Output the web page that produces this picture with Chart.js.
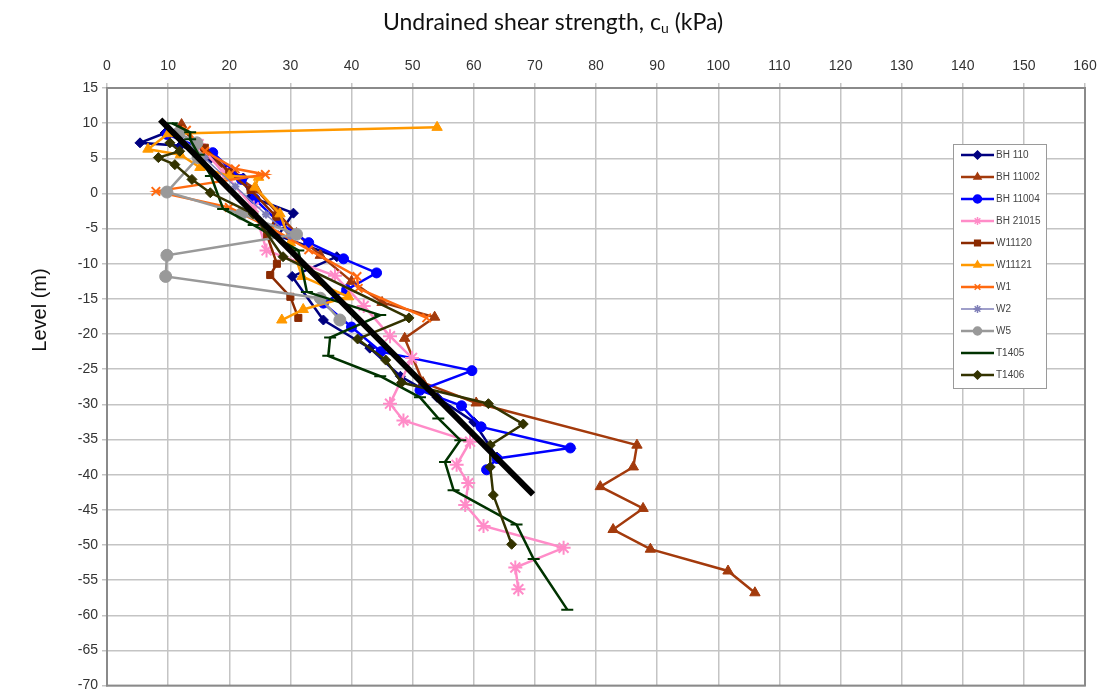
<!DOCTYPE html>
<html>
<head>
<meta charset="utf-8">
<title>Undrained shear strength profile</title>
<script src="https://cdn.jsdelivr.net/npm/chart.js@4.4.1/dist/chart.umd.min.js"></script>
<style>
  html, body { margin: 0; padding: 0; background: #fff; }
  #wrap { width: 1107px; height: 698px; }
</style>
</head>
<body>
<div id="wrap"><canvas id="cuChart" width="1107" height="698"></canvas></div>
<script>
// [cu (kPa), level (m)] for each borehole / test profile
const BH110 = [[9.5, 8.6], [5.4, 7.2], [12, 6.8], [17, 5], [22.3, 2.2], [23.5, -0.5], [30.5, -2.8], [28, -6], [37.6, -9], [30.3, -11.8], [35.4, -18], [43, -22], [48, -26], [54, -29], [60, -32.5], [63.8, -37.5]];
const BH11002 = [[12.2, 9.8], [16, 5.5], [21, 2.5], [24.5, 0.5], [27.8, -2.7], [31, -5.7], [34.9, -8.8], [40, -12.5], [45, -15.5], [53.6, -17.6], [48.7, -20.6], [51.7, -26.9], [60.4, -29.8], [86.7, -35.8], [86.1, -38.9], [80.7, -41.7], [87.7, -44.8], [82.8, -47.8], [88.9, -50.6], [101.6, -53.7], [106, -56.8]];
const BH11004 = [[9.8, 8.4], [17.3, 5.8], [22, 2], [24.2, -0.8], [28, -4], [33, -7], [38.7, -9.3], [44.1, -11.3], [39.2, -13.7], [35.4, -15.6], [40, -19], [44.8, -22.5], [59.7, -25.2], [51.2, -28], [58, -30.2], [61.2, -33.2], [75.8, -36.2], [63.8, -37.7], [62.1, -39.3]];
const BH21015 = [[15, 7], [19, 3], [24, -2], [26.1, -8.1], [37.3, -11.7], [42, -16], [46.3, -20.3], [49.9, -23.4], [46.3, -29.9], [48.5, -32.3], [59.4, -35.3], [57.2, -38.6], [59.1, -41.2], [58.6, -44.3], [61.6, -47.3], [74.7, -50.4], [66.8, -53.2], [67.3, -56.3]];
const W11120 = [[12, 9.2], [16, 6.5], [20, 3], [23.5, 0.5], [27.7, -3.3], [26.2, -6], [27.8, -10], [26.7, -11.6], [30, -14.7], [31.3, -17.7]];
const W11121 = [[54, 9.4], [10, 8.5], [6.7, 6.3], [12, 5.5], [15.2, 3.7], [20, 2.5], [24.8, 2.3], [24.2, 0.9], [28.3, -2.9], [30, -7], [31.9, -11.8], [39.5, -14.7], [32.1, -16.5], [28.6, -18]];
const W1 = [[13, 9], [16, 6], [21, 3.5], [25.9, 2.7], [8, 0.3], [20, -2], [27, -5], [33, -8], [40.9, -11.8], [41.1, -13.5], [52.3, -17.7]];
const W2 = [[12, 8], [16, 5], [21, 1], [26, -3], [30, -6]];
const W5 = [[11.7, 8.6], [14.7, 7.2], [14.9, 5.1], [9.8, 0.2], [22, -2.9], [31, -5.8], [9.8, -8.8], [9.6, -11.8], [34.9, -14.9], [38.1, -18]];
const T1405 = [[10.6, 10], [13.6, 8.7], [13.6, 7.7], [15, 5.5], [17, 2.5], [19, -2.2], [24, -4.5], [31.3, -8.1], [32.7, -14], [44.7, -17.3], [36.5, -20.5], [36.2, -23.1], [44.7, -26], [51.2, -29], [54.2, -32], [57.8, -35.1], [55.3, -38.2], [56.7, -42.2], [67, -47.1], [69.8, -52], [75.3, -59.2]];
const T1406 = [[10.3, 7.2], [11.9, 6], [8.4, 5.1], [11.1, 4.1], [13.9, 2], [16.9, 0.1], [23.9, -2.9], [28.8, -9], [49.4, -17.7], [41, -20.7], [45.6, -23.7], [48.2, -26.9], [62.4, -29.9], [68.1, -32.8], [62.7, -35.8], [62.7, -38.9], [63.2, -42.9], [66.2, -49.9]];

// design line
const trendCu = [8.7, 69.7];
const trendLevel = [10.5, -42.8];

const xTicks = { min: 0, max: 160, step: 10 };
const yTicks = { min: -70, max: 15, step: 5 };

const series = [
  { label: 'BH 110',   pts: BH110,   color: '#000080', style: 'rectRot',  r: 5 },
  { label: 'BH 11002', pts: BH11002, color: '#A33A0C', style: 'triangle', r: 6 },
  { label: 'BH 11004', pts: BH11004, color: '#0000FF', style: 'circle',   r: 5 },
  { label: 'BH 21015', pts: BH21015, color: '#FF8CC8', style: 'star',     r: 7 },
  { label: 'W11120',   pts: W11120,  color: '#8B2A00', style: 'rect',     r: 5 },
  { label: 'W11121',   pts: W11121,  color: '#FF9900', style: 'triangle', r: 6 },
  { label: 'W1',       pts: W1,      color: '#FF6A10', style: 'crossRot', r: 6 },
  { label: 'W2',       pts: W2,      color: '#7F7FB8', style: 'star',     r: 4 },
  { label: 'W5',       pts: W5,      color: '#999999', style: 'circle',   r: 6 },
  { label: 'T1405',    pts: T1405,   color: '#003300', style: 'line',     r: 6 },
  { label: 'T1406',    pts: T1406,   color: '#333300', style: 'rectRot',  r: 5 }
];

const datasets = series.map((s, i) => ({
  label: s.label,
  data: s.pts.map(p => ({ x: p[0], y: p[1] })),
  showLine: true,
  borderColor: s.color,
  backgroundColor: s.color,
  borderWidth: s.label === 'W2' ? 1.5 : 2.5,
  pointStyle: s.style,
  pointRadius: s.r,
  pointBorderWidth: (s.style === 'star' || s.style === 'crossRot' || s.style === 'line') ? 2 : 1,
  order: 30 - i
}));

datasets.push({
  label: 'trend',
  data: trendCu.map((v, i) => ({ x: v, y: trendLevel[i] })),
  showLine: true,
  borderColor: '#000',
  borderWidth: 6,
  pointRadius: 0,
  order: 0
});

// axis titles and the boxed legend are drawn by hand
const decorations = {
  id: 'decorations',
  afterDraw(chart) {
    const ctx = chart.ctx;
    ctx.save();

    // top title with subscript u
    ctx.fillStyle = '#111';
    ctx.textBaseline = 'alphabetic';
    const big = '23px Lato, "Open Sans", sans-serif';
    const small = '14px Lato, "Open Sans", sans-serif';
    const a = 'Undrained shear strength, c', b = 'u', c = ' (kPa)';
    ctx.font = big; const wa = ctx.measureText(a).width, wc = ctx.measureText(c).width;
    ctx.font = small; const wb = ctx.measureText(b).width;
    let x = 553 - (wa + wb + wc) / 2;
    const base = 30;
    ctx.textAlign = 'left';
    ctx.font = big; ctx.fillText(a, x, base); x += wa;
    ctx.font = small; ctx.fillText(b, x, base + 3); x += wb;
    ctx.font = big; ctx.fillText(c, x, base);

    // left axis title
    ctx.save();
    ctx.translate(40, 310);
    ctx.rotate(-Math.PI / 2);
    ctx.textAlign = 'center';
    ctx.textBaseline = 'middle';
    ctx.font = '20px "Liberation Sans", Arial, sans-serif';
    ctx.fillStyle = '#111';
    ctx.fillText('Level (m)', 0, 0);
    ctx.restore();

    // legend box
    const lx = 953, ly = 144, lw = 93, lh = 244;
    ctx.fillStyle = '#fff';
    ctx.fillRect(lx, ly, lw, lh);
    ctx.strokeStyle = '#9a9a9a';
    ctx.lineWidth = 1;
    ctx.strokeRect(lx + 0.5, ly + 0.5, lw, lh);
    series.forEach((s, i) => {
      const y = 155 + i * 22;
      ctx.strokeStyle = s.color;
      ctx.lineWidth = s.label === 'W2' ? 1.5 : 2.5;
      ctx.beginPath();
      ctx.moveTo(961, y);
      ctx.lineTo(994, y);
      ctx.stroke();
      ctx.fillStyle = s.color;
      ctx.lineWidth = 1.5;
      Chart.helpers.drawPoint(ctx, { pointStyle: s.style, radius: Math.min(s.r, 4), rotation: 0, borderWidth: 1.5 }, 977.5, y);
      ctx.fillStyle = '#444';
      ctx.font = '10px "Liberation Sans", Arial, sans-serif';
      ctx.textAlign = 'left';
      ctx.textBaseline = 'middle';
      ctx.fillText(s.label, 996, y + 0.5);
    });
    ctx.restore();
  }
};

const ctx = document.getElementById('cuChart').getContext('2d');
const cuChart = new Chart(ctx, {
  type: 'scatter',
  data: { datasets: datasets },
  options: {
    responsive: false,
    animation: false,
    devicePixelRatio: 1,
    layout: { padding: { top: 0, right: 22, bottom: 7, left: 0 } },
    plugins: { legend: { display: false }, tooltip: { enabled: false } },
    scales: {
      x: {
        type: 'linear',
        position: 'top',
        min: xTicks.min,
        max: xTicks.max,
        afterFit(scale) { scale.height = 88; },
        ticks: {
          stepSize: xTicks.step,
          padding: 8,
          color: '#333',
          font: { family: '"Liberation Sans Narrow", "Liberation Sans", Arial', size: 14 }
        },
        grid: { color: '#c4c4c4', lineWidth: 1.5, tickLength: 5 },
        border: { color: '#8a8a8a', width: 2 }
      },
      y: {
        type: 'linear',
        min: yTicks.min,
        max: yTicks.max,
        afterFit(scale) { scale.width = 107; },
        ticks: {
          stepSize: yTicks.step,
          padding: 4,
          color: '#333',
          font: { family: '"Liberation Sans", Arial', size: 14 }
        },
        grid: { color: '#c4c4c4', lineWidth: 1.5, tickLength: 5 },
        border: { color: '#8a8a8a', width: 2 }
      }
    }
  },
  plugins: [
    decorations,
    {
      id: 'frame',
      beforeDatasetsDraw(chart) {
        const a = chart.chartArea, c = chart.ctx;
        c.save();
        c.strokeStyle = '#8a8a8a';
        c.lineWidth = 2;
        c.strokeRect(a.left, a.top, a.right - a.left, a.bottom - a.top);
        c.restore();
      }
    }
  ]
});
</script>
</body>
</html>
